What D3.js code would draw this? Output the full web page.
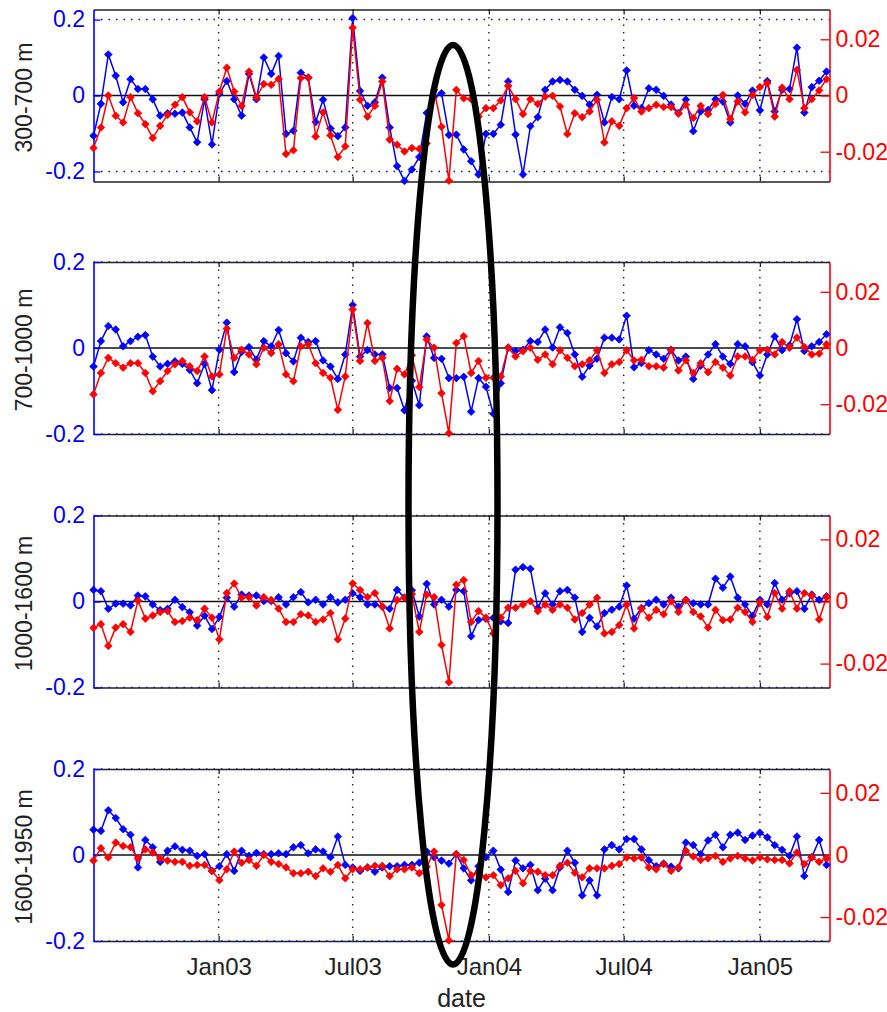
<!DOCTYPE html>
<html>
<head>
<meta charset="utf-8">
<script src="https://cdn.jsdelivr.net/npm/d3@7"></script>
<style>
  body { margin: 0; background: #fff; }
  svg { display: block; font-family: "Liberation Sans", Arial, sans-serif; }
</style>
</head>
<body>
<svg class="chart" width="887" height="1012"></svg>
<script>
// one sample every 10 days, first one on 16 Jul 2002
const startDate = new Date(2002, 6, 16)
const stepDays = 10
const sampleCount = 100

const depthLabels = ["300-700 m", "700-1000 m", "1000-1600 m", "1600-1950 m"]
const tickDates = [new Date(2003, 0, 1), new Date(2003, 6, 1), new Date(2004, 0, 1), new Date(2004, 6, 1), new Date(2005, 0, 1)]
const blueTicks = [-0.2, 0, 0.2]
const redTicks = [-0.02, 0, 0.02]

// left (blue) series, one per layer
const blue300 = [-0.106,-0.022,0.108,0.052,-0.018,0.043,0.017,0.017,-0.010,-0.053,
  -0.047,-0.048,-0.045,-0.084,-0.123,-0.010,-0.129,0.004,0.038,-0.010,
  -0.053,0.057,-0.010,0.100,0.057,0.104,-0.101,-0.093,0.060,0.047,
  -0.070,-0.011,-0.087,-0.107,-0.084,0.204,0.012,-0.027,-0.018,0.047,
  -0.084,-0.186,-0.225,-0.195,-0.162,-0.046,-0.003,0.006,-0.104,-0.103,
  -0.142,-0.173,-0.208,-0.101,-0.101,-0.077,0.037,-0.103,-0.208,-0.081,
  -0.057,0.015,0.037,0.041,0.037,0.015,-0.001,-0.024,0.002,-0.071,
  -0.004,-0.010,0.066,-0.027,-0.033,0.019,0.015,-0.001,-0.024,-0.046,
  -0.011,-0.094,-0.042,-0.038,-0.010,-0.016,-0.071,0.000,-0.022,0.013,
  -0.039,0.038,-0.042,0.015,0.017,0.126,-0.045,0.022,0.039,0.063]
const blue700 = [-0.043,0.016,0.051,0.043,0.004,0.016,0.026,0.030,-0.020,-0.043,
  -0.037,-0.031,-0.037,-0.051,-0.082,-0.037,-0.098,-0.004,0.059,-0.056,
  -0.009,0.002,-0.027,0.016,0.004,0.042,-0.012,-0.031,0.024,0.014,
  0.016,-0.029,-0.043,-0.072,-0.015,0.100,-0.020,-0.005,-0.015,-0.015,
  -0.093,-0.093,-0.145,-0.076,-0.133,0.027,-0.023,-0.025,-0.070,-0.070,
  -0.067,-0.148,-0.070,-0.090,-0.153,-0.082,0.001,-0.007,-0.004,0.016,
  0.014,0.043,0.001,0.048,0.035,-0.015,-0.067,-0.041,-0.025,0.024,
  0.024,0.020,0.075,-0.045,-0.035,-0.005,-0.015,-0.025,-0.004,-0.029,
  -0.020,-0.072,-0.041,-0.015,0.009,-0.020,-0.037,0.009,0.004,-0.033,
  -0.064,-0.015,0.027,-0.005,0.006,0.067,-0.007,0.004,0.014,0.032]
const blue1000 = [0.027,0.024,-0.017,-0.005,-0.005,-0.009,0.014,0.012,-0.007,-0.020,
  -0.017,0.004,-0.013,-0.025,-0.056,-0.033,-0.064,-0.036,0.009,-0.012,
  0.016,0.014,0.014,0.001,0.001,0.010,-0.007,0.010,0.022,-0.002,
  0.004,-0.007,0.010,-0.002,0.004,0.019,0.010,-0.007,-0.007,-0.012,
  -0.017,0.027,0.009,0.026,-0.035,0.041,-0.007,0.004,-0.012,0.027,
  0.024,-0.081,-0.043,-0.040,-0.038,-0.046,-0.050,0.074,0.080,0.076,
  -0.015,0.019,-0.007,0.024,0.027,0.009,-0.071,-0.038,-0.058,-0.027,
  -0.019,-0.012,0.037,-0.040,-0.015,-0.004,0.004,-0.007,0.009,-0.012,
  0.004,-0.004,-0.007,-0.007,0.053,0.032,0.058,0.009,-0.007,-0.033,
  0.004,-0.007,0.043,0.004,0.019,0.024,-0.017,0.016,0.004,0.012]
const blue1600 = [0.059,0.056,0.104,0.086,0.060,0.047,-0.029,0.035,0.018,-0.016,
  0.010,0.020,0.012,0.010,-0.002,0.002,-0.037,-0.026,0.002,-0.037,
  0.010,-0.002,0.005,0.002,0.002,0.004,0.002,0.018,0.023,0.004,
  0.013,0.008,-0.005,0.043,-0.023,-0.029,-0.037,-0.029,-0.039,-0.029,
  -0.026,-0.026,-0.023,-0.023,-0.018,0.008,-0.005,-0.013,-0.020,0.002,
  -0.031,-0.059,-0.026,-0.005,0.010,-0.034,-0.086,-0.013,-0.031,-0.023,
  -0.082,-0.055,-0.082,-0.029,0.010,-0.018,-0.094,-0.059,-0.094,0.013,
  0.023,0.013,0.037,0.037,0.013,-0.012,-0.026,-0.020,-0.027,-0.031,
  0.029,0.023,0.002,0.034,0.047,0.018,0.047,0.052,0.035,0.045,
  0.052,0.041,0.023,0.012,-0.002,0.043,-0.049,-0.005,0.035,-0.023]

// right (red) series, one per layer
const red300 = [-0.0187,-0.0114,0.0000,-0.0072,-0.0096,-0.0006,-0.0063,-0.0102,-0.0151,-0.0108,
  -0.0069,-0.0033,-0.0006,-0.0060,-0.0092,-0.0006,-0.0096,0.0014,0.0099,0.0014,
  -0.0037,0.0085,-0.0007,0.0041,0.0038,0.0059,-0.0208,-0.0195,0.0062,0.0064,
  -0.0146,-0.0060,-0.0142,-0.0219,-0.0181,0.0241,-0.0015,-0.0075,-0.0037,0.0050,
  -0.0157,-0.0175,-0.0199,-0.0187,-0.0190,-0.0170,0.0020,-0.0111,-0.0303,0.0020,
  -0.0010,-0.0013,-0.0075,-0.0045,-0.0045,-0.0018,0.0034,-0.0013,-0.0066,-0.0013,
  -0.0030,-0.0004,-0.0001,-0.0039,-0.0137,-0.0063,-0.0077,-0.0057,-0.0015,-0.0167,
  -0.0092,-0.0108,-0.0045,-0.0009,-0.0057,-0.0045,-0.0033,-0.0041,-0.0041,-0.0065,
  -0.0033,-0.0080,-0.0037,-0.0066,-0.0030,0.0002,-0.0084,-0.0021,-0.0060,0.0002,
  0.0030,0.0044,-0.0075,0.0028,-0.0013,0.0091,-0.0045,-0.0013,0.0018,0.0058]
const red700 = [-0.0165,-0.0089,-0.0035,-0.0054,-0.0070,-0.0054,-0.0054,-0.0089,-0.0154,-0.0118,
  -0.0082,-0.0058,-0.0046,-0.0065,-0.0082,-0.0030,-0.0101,-0.0094,0.0069,-0.0035,
  -0.0006,-0.0023,-0.0058,0.0001,-0.0018,0.0013,-0.0094,-0.0118,0.0006,0.0013,
  -0.0054,-0.0089,-0.0106,-0.0220,-0.0101,0.0137,-0.0046,0.0089,-0.0046,-0.0035,
  -0.0189,-0.0074,-0.0094,-0.0026,-0.0139,0.0030,0.0001,-0.0161,-0.0303,0.0018,
  0.0042,-0.0089,-0.0046,-0.0106,-0.0106,-0.0101,0.0001,-0.0030,-0.0011,0.0001,
  -0.0042,-0.0023,-0.0058,-0.0008,-0.0035,-0.0065,-0.0058,-0.0044,-0.0008,-0.0089,
  -0.0058,-0.0050,-0.0008,-0.0044,-0.0042,-0.0065,-0.0065,-0.0070,-0.0008,-0.0080,
  -0.0044,-0.0089,-0.0054,-0.0086,-0.0050,-0.0070,-0.0098,-0.0030,-0.0030,-0.0042,
  -0.0008,-0.0006,-0.0023,0.0021,0.0001,0.0037,0.0004,-0.0023,-0.0020,0.0013]
const red1000 = [-0.0085,-0.0073,-0.0143,-0.0084,-0.0073,-0.0098,0.0003,-0.0055,-0.0045,-0.0034,
  -0.0031,-0.0066,-0.0063,-0.0052,-0.0060,-0.0023,-0.0052,-0.0122,0.0027,0.0058,
  0.0012,0.0014,-0.0013,0.0014,0.0005,-0.0023,-0.0066,-0.0066,-0.0041,-0.0045,
  -0.0066,-0.0058,-0.0037,-0.0122,-0.0055,0.0058,0.0037,0.0014,0.0027,-0.0016,
  -0.0087,0.0005,0.0012,0.0024,-0.0098,0.0022,0.0014,-0.0140,-0.0260,0.0054,
  0.0069,-0.0066,-0.0031,-0.0052,-0.0103,-0.0052,-0.0020,-0.0020,-0.0010,0.0001,
  -0.0031,-0.0010,-0.0027,-0.0010,-0.0020,-0.0058,-0.0037,-0.0010,0.0012,-0.0103,
  -0.0098,-0.0076,-0.0010,-0.0087,-0.0023,-0.0052,-0.0027,-0.0041,0.0001,-0.0034,
  0.0005,-0.0034,-0.0048,-0.0084,-0.0027,-0.0060,-0.0058,-0.0020,-0.0034,-0.0066,
  -0.0002,-0.0050,0.0027,-0.0023,0.0033,-0.0023,0.0027,0.0019,-0.0058,0.0014]
const red1600 = [-0.0018,0.0022,-0.0008,0.0040,0.0029,0.0025,-0.0011,0.0018,0.0008,-0.0011,
  -0.0018,-0.0022,-0.0022,-0.0035,-0.0032,-0.0032,-0.0051,-0.0081,-0.0046,0.0011,
  -0.0025,-0.0016,-0.0035,0.0000,-0.0022,-0.0029,-0.0040,-0.0059,-0.0059,-0.0054,
  -0.0068,-0.0043,-0.0054,-0.0032,-0.0075,-0.0046,-0.0046,-0.0040,-0.0035,-0.0035,
  -0.0068,-0.0046,-0.0046,-0.0040,-0.0059,-0.0038,0.0011,-0.0161,-0.0275,0.0003,
  -0.0016,-0.0065,-0.0057,-0.0072,-0.0065,-0.0097,-0.0075,-0.0051,-0.0091,-0.0051,
  -0.0054,-0.0065,-0.0065,-0.0035,-0.0025,-0.0057,-0.0072,-0.0043,-0.0043,-0.0043,
  -0.0035,-0.0029,-0.0008,-0.0011,-0.0008,-0.0040,-0.0046,-0.0029,-0.0051,-0.0040,
  0.0014,-0.0005,-0.0016,-0.0011,-0.0003,-0.0022,-0.0011,-0.0003,-0.0011,-0.0018,
  -0.0008,-0.0014,-0.0016,-0.0016,-0.0027,0.0008,-0.0029,-0.0008,-0.0022,-0.0011]

const dates = d3.range(sampleCount).map(i => d3.timeDay.offset(startDate, i * stepDays))

// each panel: labels + series + axis limits
const panels = [
  {label: depthLabels[0], blue: blue300,  red: red300,  blueLim: 0.2265, redLim: 0.0306},
  {label: depthLabels[1], blue: blue700,  red: red700,  blueLim: 0.2,    redLim: 0.0306},
  {label: depthLabels[2], blue: blue1000, red: red1000, blueLim: 0.2,    redLim: 0.0277},
  {label: depthLabels[3], blue: blue1600, red: red1600, blueLim: 0.2,    redLim: 0.0277}
]

const svg = d3.select("svg.chart")

const left = 93.5
const right = 829.5
const panelTops = [9.5, 262, 515.5, 769]
const panelH = 172

const scaleX = d3.scaleTime()
    .domain([startDate, new Date(2005, 3, 5)])
    .range([left, right])

const diamond = "M0,-3.8L3.8,0L0,3.8L-3.8,0Z"
const numFormat = d => d === 0 ? "0" : String(d)

panels.forEach((p, k) => {
    const top = panelTops[k]
    const bottom = top + panelH
    const isLast = k === panels.length - 1

    const scaleL = d3.scaleLinear().domain([-p.blueLim, p.blueLim]).range([bottom, top])
    const scaleR = d3.scaleLinear().domain([-p.redLim, p.redLim]).range([bottom, top])

    const g = svg.append("g").attr("class", "panel")

    // bottom frame + x ticks (labels only on the last panel)
    const axisB = d3.axisBottom(scaleX)
        .tickValues(tickDates)
        .tickSizeInner(-5)
        .tickSizeOuter(0)
        .tickPadding(17)
        .tickFormat(isLast ? d3.timeFormat("%b%y") : () => "")
    const gB = g.append("g")
        .attr("transform", `translate(0, ${bottom})`)
        .attr("color", "#222")
        .call(axisB)
    gB.select(".domain").attr("stroke-width", 1.6)
    gB.selectAll(".tick line").attr("stroke-width", 1.3)
    gB.selectAll(".tick text")
        .attr("font-size", 24)
        .attr("font-family", "Liberation Sans, Arial, sans-serif")
        .attr("fill", "#222")

    // vertical dotted grid
    g.selectAll("line.vgrid")
        .data(tickDates)
        .enter().append("line")
        .attr("class", "vgrid")
        .attr("x1", d => scaleX(d))
        .attr("x2", d => scaleX(d))
        .attr("y1", top)
        .attr("y2", bottom)
        .attr("stroke", "#222")
        .attr("stroke-width", 1.4)
        .attr("stroke-dasharray", "1.5,6")

    // blue dotted grid at +-0.2
    g.selectAll("line.hgrid")
        .data([-0.2, 0.2])
        .enter().append("line")
        .attr("class", "hgrid")
        .attr("x1", left)
        .attr("x2", right)
        .attr("y1", d => scaleL(d))
        .attr("y2", d => scaleL(d))
        .attr("stroke", "#0000ff")
        .attr("stroke-width", 1.4)
        .attr("stroke-dasharray", "1.5,6")

    // top frame + ticks
    const axisT = d3.axisTop(scaleX)
        .tickValues(tickDates)
        .tickSizeInner(-5)
        .tickSizeOuter(0)
        .tickFormat(() => "")
    const gT = g.append("g")
        .attr("transform", `translate(0, ${top})`)
        .attr("color", "#222")
        .call(axisT)
    gT.select(".domain").attr("stroke-width", 1.6)
    gT.selectAll(".tick line").attr("stroke-width", 1.3)

    // zero line
    g.append("line")
        .attr("x1", left)
        .attr("x2", right)
        .attr("y1", scaleL(0))
        .attr("y2", scaleL(0))
        .attr("stroke", "#111")
        .attr("stroke-width", 1.6)

    // left (blue) axis
    const axisL = d3.axisLeft(scaleL)
        .tickValues(blueTicks)
        .tickSizeInner(-7)
        .tickSizeOuter(0)
        .tickPadding(8.5)
        .tickFormat(numFormat)
    const gL = g.append("g")
        .attr("transform", `translate(${left}, 0)`)
        .attr("color", "#0000ff")
        .call(axisL)
    gL.select(".domain").attr("stroke-width", 1.6)
    gL.selectAll(".tick line").attr("stroke-width", 1.3)
    gL.selectAll(".tick text")
        .attr("font-size", 23)
        .attr("font-family", "Liberation Sans, Arial, sans-serif")

    // right (red) axis
    const axisR = d3.axisRight(scaleR)
        .tickValues(redTicks)
        .tickSizeInner(-9)
        .tickSizeOuter(0)
        .tickPadding(6)
        .tickFormat(numFormat)
    const gR = g.append("g")
        .attr("transform", `translate(${right}, 0)`)
        .attr("color", "#ff0000")
        .call(axisR)
    gR.select(".domain").attr("stroke-width", 1.6)
    gR.selectAll(".tick line").attr("stroke-width", 1.3)
    gR.selectAll(".tick text")
        .attr("font-size", 23)
        .attr("font-family", "Liberation Sans, Arial, sans-serif")

    // depth label
    g.append("text")
        .attr("transform", `translate(32, ${(top + bottom) / 2 + 2}) rotate(-90)`)
        .attr("text-anchor", "middle")
        .attr("font-size", 23)
        .attr("fill", "#222")
        .text(p.label)

    // the two series, blue under red
    const series = [
        {values: p.blue, scale: scaleL, color: "#0000ff"},
        {values: p.red, scale: scaleR, color: "#ff0000"}
    ]
    series.forEach(s => {
        const line = d3.line()
            .x((d, i) => scaleX(dates[i]))
            .y(d => s.scale(d))
        g.append("path")
            .datum(s.values)
            .attr("d", line)
            .attr("fill", "none")
            .attr("stroke", s.color)
            .attr("stroke-width", 1.5)
            .attr("stroke-linejoin", "round")
        g.append("g")
            .selectAll("path")
            .data(s.values)
            .enter().append("path")
            .attr("transform", (d, i) => `translate(${scaleX(dates[i])}, ${s.scale(d)})`)
            .attr("d", diamond)
            .attr("fill", s.color)
            .attr("stroke", s.color)
            .attr("stroke-width", 0.8)
    })
})

// x axis title
svg.append("text")
    .attr("x", (left + right) / 2)
    .attr("y", 1007)
    .attr("text-anchor", "middle")
    .attr("font-size", 25)
    .attr("fill", "#222")
    .text("date")

// hand-drawn highlight round the Nov-Dec 2003 dip
svg.append("ellipse")
    .attr("cx", 453)
    .attr("cy", 504.75)
    .attr("rx", 44.5)
    .attr("ry", 459.75)
    .attr("fill", "none")
    .attr("stroke", "#000")
    .attr("stroke-width", 6.5)
</script>
</body>
</html>
